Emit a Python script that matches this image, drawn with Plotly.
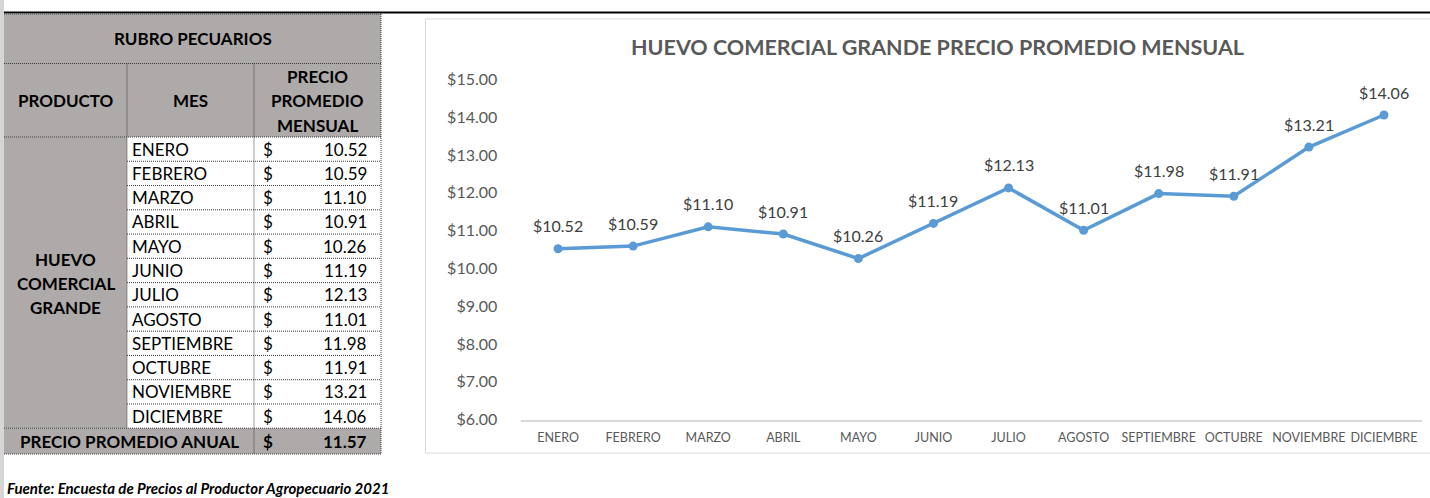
import plotly.graph_objects as go

# Monthly average price of large commercial egg, 2021
meses = ["ENERO", "FEBRERO", "MARZO", "ABRIL", "MAYO", "JUNIO", "JULIO",
         "AGOSTO", "SEPTIEMBRE", "OCTUBRE", "NOVIEMBRE", "DICIEMBRE"]
precios = [10.52, 10.59, 11.10, 10.91, 10.26, 11.19, 12.13,
           11.01, 11.98, 11.91, 13.21, 14.06]
promedio_anual = round(sum(precios) / len(precios), 2)

titulo = "HUEVO COMERCIAL GRANDE PRECIO PROMEDIO MENSUAL"
producto = ["HUEVO", "COMERCIAL", "GRANDE"]
fuente = "Fuente: Encuesta de Precios al Productor Agropecuario 2021"

W, H = 1430, 498
FONT = "Lato"
GRIS = "#AEAAAA"
AZUL = "#5B9BD5"


def px(x):
    return x / W


def py(y):
    return 1 - y / H


fig = go.Figure()
fig.add_trace(go.Scatter(
    x=meses, y=precios, mode="lines+markers",
    line=dict(color=AZUL, width=3.5),
    marker=dict(size=9, color=AZUL),
    hoverinfo="skip", cliponaxis=False, showlegend=False,
))

shapes = []
annotations = []


def rect(x0, y0, x1, y1, fill):
    shapes.append(dict(type="rect", xref="paper", yref="paper",
                       x0=px(x0), x1=px(x1), y0=py(y0), y1=py(y1),
                       fillcolor=fill, line=dict(width=0), layer="below"))


def line(x0, y0, x1, y1, color="#3c3c3c", width=1, dash="1px,1px"):
    shapes.append(dict(type="line", xref="paper", yref="paper",
                       x0=px(x0), x1=px(x1), y0=py(y0), y1=py(y1),
                       line=dict(color=color, width=width, dash=dash),
                       layer="above"))


def text(x, y, s, size=17, bold=False, italic=False, color="#000000",
         xanchor="center"):
    annotations.append(dict(
        xref="paper", yref="paper", x=px(x), y=py(y), text=s,
        showarrow=False, xanchor=xanchor, yanchor="middle",
        font=dict(family=FONT, size=size, color=color,
                  weight="bold" if bold else "normal",
                  style="italic" if italic else "normal")))


# page frame: left strip and top rule
rect(0, 0, 4, H, "#D6D6D6")
line(4, 12.5, W, 12.5, color="#000000", width=2, dash="solid")

# ---- table ----
c0, c1, c2, c3 = 4, 127, 254, 381
t0, t1, t2 = 14, 63.5, 137
paso = 24.27
filas = [t2 + i * paso for i in range(len(meses) + 1)]
fin = 454

rect(c0, t0, c3, t2, GRIS)
rect(c0, t2, c1, filas[-1], GRIS)
rect(c1, t2, c3, filas[-1], "#FFFFFF")
rect(c0, filas[-1], c3, fin, GRIS)

for y in (t0, t1, t2, filas[-1], fin):
    line(c0, y, c3, y)
for y in filas[1:-1]:
    line(c1, y, c3, y)
line(c1, t1, c1, filas[-1])
line(c2, t1, c2, fin)
line(c3, t0, c3, fin)

text((c0 + c3) / 2, (t0 + t1) / 2, "RUBRO PECUARIOS", bold=True)
text((c0 + c1) / 2, (t1 + t2) / 2, "PRODUCTO", bold=True)
text((c1 + c2) / 2, (t1 + t2) / 2, "MES", bold=True)
for k, w in enumerate(["PRECIO", "PROMEDIO", "MENSUAL"]):
    text((c2 + c3) / 2, 76 + k * 24.5, w, bold=True)

for i, (m, v) in enumerate(zip(meses, precios)):
    yc = (filas[i] + filas[i + 1]) / 2
    text(c1 + 3, yc, m, xanchor="left")
    text(c2 + 7, yc, "$", xanchor="left")
    text(c3 - 12, yc, f"{v:.2f}", xanchor="right")

for k, w in enumerate(producto):
    text((c0 + c1) / 2, 259 + k * 24.3, w, bold=True)

yc = (filas[-1] + fin) / 2
text((c0 + c2) / 2, yc, "PRECIO PROMEDIO ANUAL", bold=True)
text(c2 + 7, yc, "$", bold=True, xanchor="left")
text(c3 - 12, yc, f"{promedio_anual:.2f}", bold=True, xanchor="right")

text(5, 488, fuente, size=15, bold=True, italic=True, xanchor="left")

# ---- chart ----
shapes.append(dict(type="rect", xref="paper", yref="paper",
                   x0=px(425.5), x1=px(W + 10), y0=py(19), y1=py(453),
                   fillcolor="rgba(0,0,0,0)",
                   line=dict(color="#D9D9D9", width=1), layer="below"))
text(937, 47, titulo, size=21.5, bold=True, color="#595959")

for m, v in zip(meses, precios):
    annotations.append(dict(
        xref="x", yref="y", x=m, y=v, text=f"${v:.2f}", showarrow=False,
        yshift=23, font=dict(family=FONT, size=16, color="#404040")))

fig.update_layout(
    width=W, height=H, autosize=False,
    margin=dict(l=0, r=0, t=0, b=0, autoexpand=False),
    paper_bgcolor="#FFFFFF", plot_bgcolor="rgba(0,0,0,0)",
    shapes=shapes, annotations=annotations,
    xaxis=dict(
        domain=[px(520.5), px(1421.5)], type="category",
        range=[-0.5, len(meses) - 0.5], automargin=False,
        showline=True, linecolor="#D9D9D9", linewidth=1.5,
        showgrid=False, zeroline=False,
        ticks="outside", ticklen=6, tickcolor="rgba(0,0,0,0)",
        tickfont=dict(family=FONT, size=12.5, color="#595959"),
        fixedrange=True,
    ),
    yaxis=dict(
        domain=[py(419.5), py(79.5)], range=[6, 15], dtick=1,
        tickprefix="$", tickformat=".2f", automargin=False,
        showline=False, showgrid=False, zeroline=False,
        ticks="outside", ticklen=19, tickcolor="rgba(0,0,0,0)",
        tickfont=dict(family=FONT, size=16, color="#595959"),
        fixedrange=True,
    ),
)

# the page body keeps no margin so the figure sits flush with the window
fig.write_html(
    "out.html",
    config={"displayModeBar": False, "responsive": False},
    post_script="document.body.style.margin='0';",
)
